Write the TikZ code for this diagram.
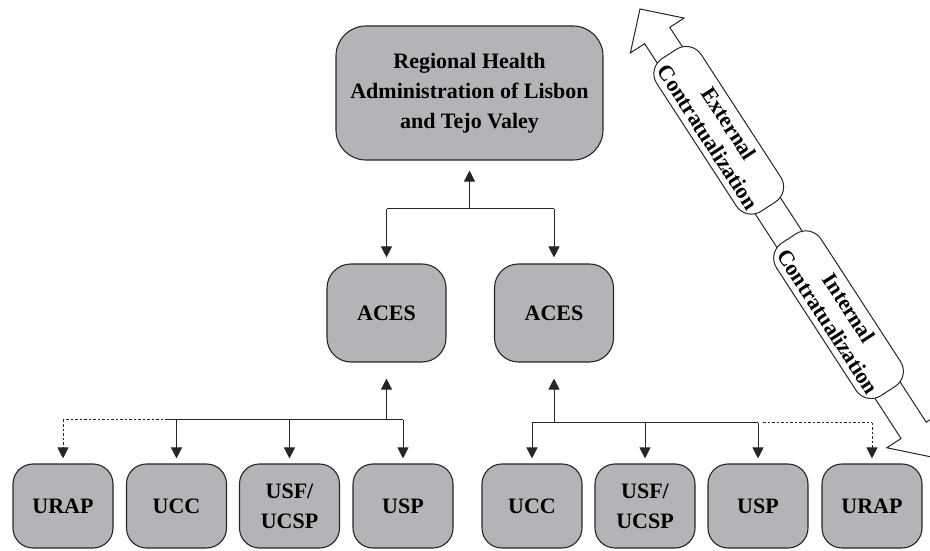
\documentclass[tikz,border=0pt]{standalone}
\usepackage{fontspec}
\setmainfont{Liberation Serif}
\usetikzlibrary{arrows.meta,calc}

\definecolor{boxgray}{RGB}{179,180,183}

\tikzset{
  unit/.style={draw=black!85, line width=1.1pt, fill=boxgray, inner sep=0pt,
    align=center, font=\bfseries\fontsize{22}{30}\selectfont},
  unitsm/.style={unit, minimum width=100pt, minimum height=84pt, rounded corners=20pt},
  link/.style={line width=1pt, draw=black!85},
  arr/.style={link, -{Triangle[length=11pt,width=11pt]}},
  dotlink/.style={link, dash pattern=on 2.5pt off 2pt},
  bigarrow/.style={draw=black!85, fill=white, line width=1pt},
  contract/.style={draw=black!85, fill=white, line width=1pt, rounded corners=18pt,
    minimum width=182pt, minimum height=53pt, inner sep=0pt, align=center,
    transform shape, font=\bfseries\fontsize{22}{25}\selectfont},
}

\begin{document}
\begin{tikzpicture}[x=1pt,y=1pt]
    \clip (0,0) rectangle (930,550);

    % nodi
    \node[unit, minimum width=267pt, minimum height=134pt, rounded corners=30pt] (rhs) at (469.5,457)
        {Regional Health\\Administration of Lisbon\\and Tejo Valey};
    \node[unit, minimum width=119pt, minimum height=98pt, rounded corners=24pt] (aces1) at (386.5,237) {ACES};
    \node[unit, minimum width=119pt, minimum height=98pt, rounded corners=24pt] (aces2) at (554,237) {ACES};

    \node[unitsm] (urap1) at (63,44) {URAP};
    \node[unitsm] (ucc1) at (176.5,44) {UCC};
    \node[unitsm] (usf1) at (289.5,44) {USF/\\UCSP};
    \node[unitsm] (usp1) at (403,44) {USP};
    \node[unitsm] (ucc2) at (532,44) {UCC};
    \node[unitsm] (usf2) at (645,44) {USF/\\UCSP};
    \node[unitsm] (usp2) at (758,44) {USP};
    \node[unitsm] (urap2) at (872,44) {URAP};

    % ACES -> ARS
    \coordinate (j0) at ($(rhs.south)+(0,-48)$);
    \draw[arr, shorten >=10pt] (j0) -- (rhs.south);
    \draw[link] (aces1.north |- j0) -- (aces2.north |- j0);
    \draw[arr, shorten >=6pt] (aces1.north |- j0) -- (aces1.north);
    \draw[arr, shorten >=6pt] (aces2.north |- j0) -- (aces2.north);

    % unita -> ACES (sinistra)
    \coordinate (j1) at ($(aces1.south)+(0,-57)$);
    \coordinate (d1) at ($(ucc1.north |- j1)+(-9,0)$);
    \draw[arr, shorten >=16pt] (j1) -- (aces1.south);
    \draw[link] (d1) -- (usp1.north |- j1);
    \draw[dotlink] (d1) -- (urap1.north |- j1);
    \draw[arr, dotlink, shorten >=5pt] (urap1.north |- j1) -- (urap1.north);
    \draw[arr, shorten >=5pt] (ucc1.north |- j1) -- (ucc1.north);
    \draw[arr, shorten >=5pt] (usf1.north |- j1) -- (usf1.north);
    \draw[arr, shorten >=5pt] (usp1.north |- j1) -- (usp1.north);

    % unita -> ACES (destra)
    \coordinate (j2) at ($(aces2.south)+(0,-60)$);
    \coordinate (d2) at ($(usp2.north |- j2)+(5,0)$);
    \draw[arr, shorten >=16pt] (j2) -- (aces2.south);
    \draw[link] (ucc2.north |- j2) -- (usp2.north |- j2);
    \draw[dotlink] (d2) -- (urap2.north |- j2);
    \draw[arr, shorten >=5pt] (ucc2.north |- j2) -- (ucc2.north);
    \draw[arr, shorten >=5pt] (usf2.north |- j2) -- (usf2.north);
    \draw[arr, shorten >=5pt] (usp2.north |- j2) -- (usp2.north);
    \draw[arr, dotlink, shorten >=5pt] (urap2.north |- j2) -- (urap2.north);

    % freccia doppia della contrattualizzazione
    \begin{scope}[shift={(640,541)}, rotate=-57]
        \draw[bigarrow] (0,0) -- (31.6,32) -- (31.6,15) -- (502.4,15) -- (502.4,32) -- (534,0)
            -- (502.4,-32) -- (502.4,-15) -- (31.6,-15) -- (31.6,-32) -- cycle;
        \node[contract] (ext) at (144.6,0) {External\\Contratualization};
        \node[contract] (int) at (364.5,0) {Internal\\Contratualization};
    \end{scope}
\end{tikzpicture}
\end{document}
